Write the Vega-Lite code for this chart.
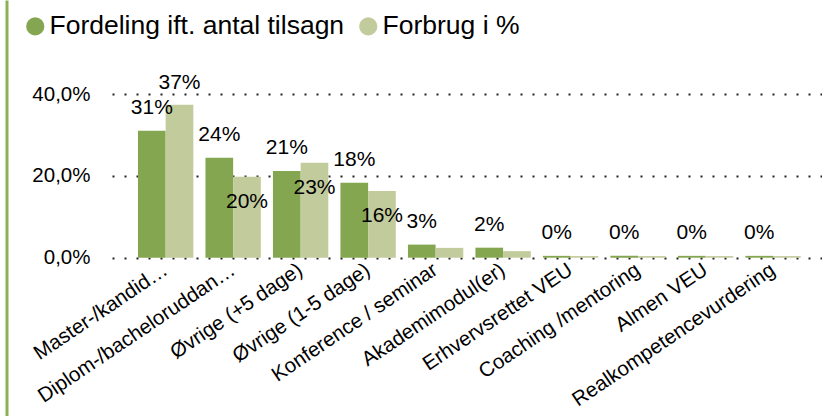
{
  "$schema": "https://vega.github.io/schema/vega-lite/v6.json",
  "width": 710,
  "height": 416,
  "autosize": {"type": "none"},
  "padding": {"left": 112, "top": 0, "right": 0, "bottom": 0},
  "background": "white",
  "config": {"view": {"stroke": null}, "font": "Liberation Sans"},
  "data": {
    "values": [
      {"category": "Master-/kandid…", "series": "Fordeling ift. antal tilsagn", "value": 0.31},
      {"category": "Master-/kandid…", "series": "Forbrug i %", "value": 0.374},
      {"category": "Diplom-/bacheloruddan…", "series": "Fordeling ift. antal tilsagn", "value": 0.244},
      {"category": "Diplom-/bacheloruddan…", "series": "Forbrug i %", "value": 0.198},
      {"category": "Øvrige (+5 dage)", "series": "Fordeling ift. antal tilsagn", "value": 0.212},
      {"category": "Øvrige (+5 dage)", "series": "Forbrug i %", "value": 0.232},
      {"category": "Øvrige (1-5 dage)", "series": "Fordeling ift. antal tilsagn", "value": 0.183},
      {"category": "Øvrige (1-5 dage)", "series": "Forbrug i %", "value": 0.163},
      {"category": "Konference / seminar", "series": "Fordeling ift. antal tilsagn", "value": 0.032},
      {"category": "Konference / seminar", "series": "Forbrug i %", "value": 0.024},
      {"category": "Akademimodul(er)", "series": "Fordeling ift. antal tilsagn", "value": 0.0245},
      {"category": "Akademimodul(er)", "series": "Forbrug i %", "value": 0.016},
      {"category": "Erhvervsrettet VEU", "series": "Fordeling ift. antal tilsagn", "value": 0.0045},
      {"category": "Erhvervsrettet VEU", "series": "Forbrug i %", "value": 0.004},
      {"category": "Coaching /mentoring", "series": "Fordeling ift. antal tilsagn", "value": 0.0045},
      {"category": "Coaching /mentoring", "series": "Forbrug i %", "value": 0.004},
      {"category": "Almen VEU", "series": "Fordeling ift. antal tilsagn", "value": 0.0045},
      {"category": "Almen VEU", "series": "Forbrug i %", "value": 0.004},
      {"category": "Realkompetencevurdering", "series": "Fordeling ift. antal tilsagn", "value": 0.0045},
      {"category": "Realkompetencevurdering", "series": "Forbrug i %", "value": 0.004}
    ]
  },
  "encoding": {
    "x": {
      "field": "category",
      "type": "nominal",
      "sort": null,
      "scale": {"paddingInner": 0.18, "paddingOuter": 0.35, "align": 0.55},
      "axis": {
        "title": null,
        "orient": "bottom",
        "offset": -158.3,
        "domain": false,
        "ticks": false,
        "grid": false,
        "labelAngle": -34,
        "labelAlign": "right",
        "labelBaseline": "middle",
        "labelPadding": 10,
        "labelFontSize": 20.5,
        "labelColor": "#000000",
        "labelLimit": 400
      }
    },
    "xOffset": {
      "field": "series",
      "type": "nominal",
      "sort": null,
      "scale": {"domain": ["Fordeling ift. antal tilsagn", "Forbrug i %"], "paddingInner": 0, "paddingOuter": 0}
    }
  },
  "layer": [
    {
      "mark": {"type": "bar"},
      "encoding": {
        "y": {
          "field": "value",
          "type": "quantitative",
          "scale": {"domain": [-0.3868, 0.6297], "nice": false, "zero": false},
          "axis": {
            "title": null,
            "orient": "left",
            "values": [0, 0.2, 0.4],
            "labelExpr": "replace(format(datum.value, '.1%'), '.', ',')",
            "domain": false,
            "ticks": false,
            "grid": true,
            "gridDash": [2, 10],
            "gridColor": "#222222",
            "gridWidth": 2,
            "labelFontSize": 20.5,
            "labelPadding": 22,
            "labelColor": "#000000",
            "labelBaseline": "middle"
          }
        },
        "color": {
          "field": "series",
          "type": "nominal",
          "sort": null,
          "scale": {"domain": ["Fordeling ift. antal tilsagn", "Forbrug i %"], "range": ["#84A650", "#C2CB9C"]},
          "legend": {
            "title": null,
            "orient": "none",
            "legendX": -90,
            "legendY": 13,
            "direction": "horizontal",
            "symbolType": "circle",
            "symbolSize": 330,
            "symbolStrokeWidth": 0,
            "labelFontSize": 26.5,
            "labelColor": "#000000",
            "labelOffset": 1,
            "columnPadding": 10,
            "padding": 0,
            "labelLimit": 400
          }
        }
      }
    },
    {
      "transform": [{"filter": "datum.series == 'Fordeling ift. antal tilsagn'"}],
      "mark": {"type": "text", "baseline": "middle", "align": "center", "dy": -23, "fontSize": 21, "color": "#000000"},
      "encoding": {
        "y": {
          "field": "value",
          "type": "quantitative",
          "scale": {"domain": [-0.3868, 0.6297], "nice": false, "zero": false},
          "axis": {
            "title": null,
            "orient": "left",
            "offset": 105.5,
            "domain": true,
            "domainColor": "#8CAF58",
            "domainWidth": 3,
            "labels": false,
            "ticks": false,
            "grid": false
          }
        },
        "text": {"field": "value", "type": "quantitative", "format": ".0%"}
      }
    },
    {
      "transform": [{"filter": "datum.series == 'Forbrug i %' && datum.value > 0.3"}],
      "mark": {"type": "text", "baseline": "middle", "align": "center", "dy": -22, "fontSize": 21, "color": "#000000"},
      "encoding": {
        "y": {"field": "value", "type": "quantitative", "axis": null},
        "text": {"field": "value", "type": "quantitative", "format": ".0%"}
      }
    },
    {
      "transform": [{"filter": "datum.series == 'Forbrug i %' && datum.value > 0.1 && datum.value < 0.3"}],
      "mark": {"type": "text", "baseline": "middle", "align": "center", "dy": 25.5, "fontSize": 21, "color": "#000000"},
      "encoding": {
        "y": {"field": "value", "type": "quantitative", "axis": null},
        "text": {"field": "value", "type": "quantitative", "format": ".0%"}
      }
    }
  ],
  "resolve": {"axis": {"y": "independent"}}
}
